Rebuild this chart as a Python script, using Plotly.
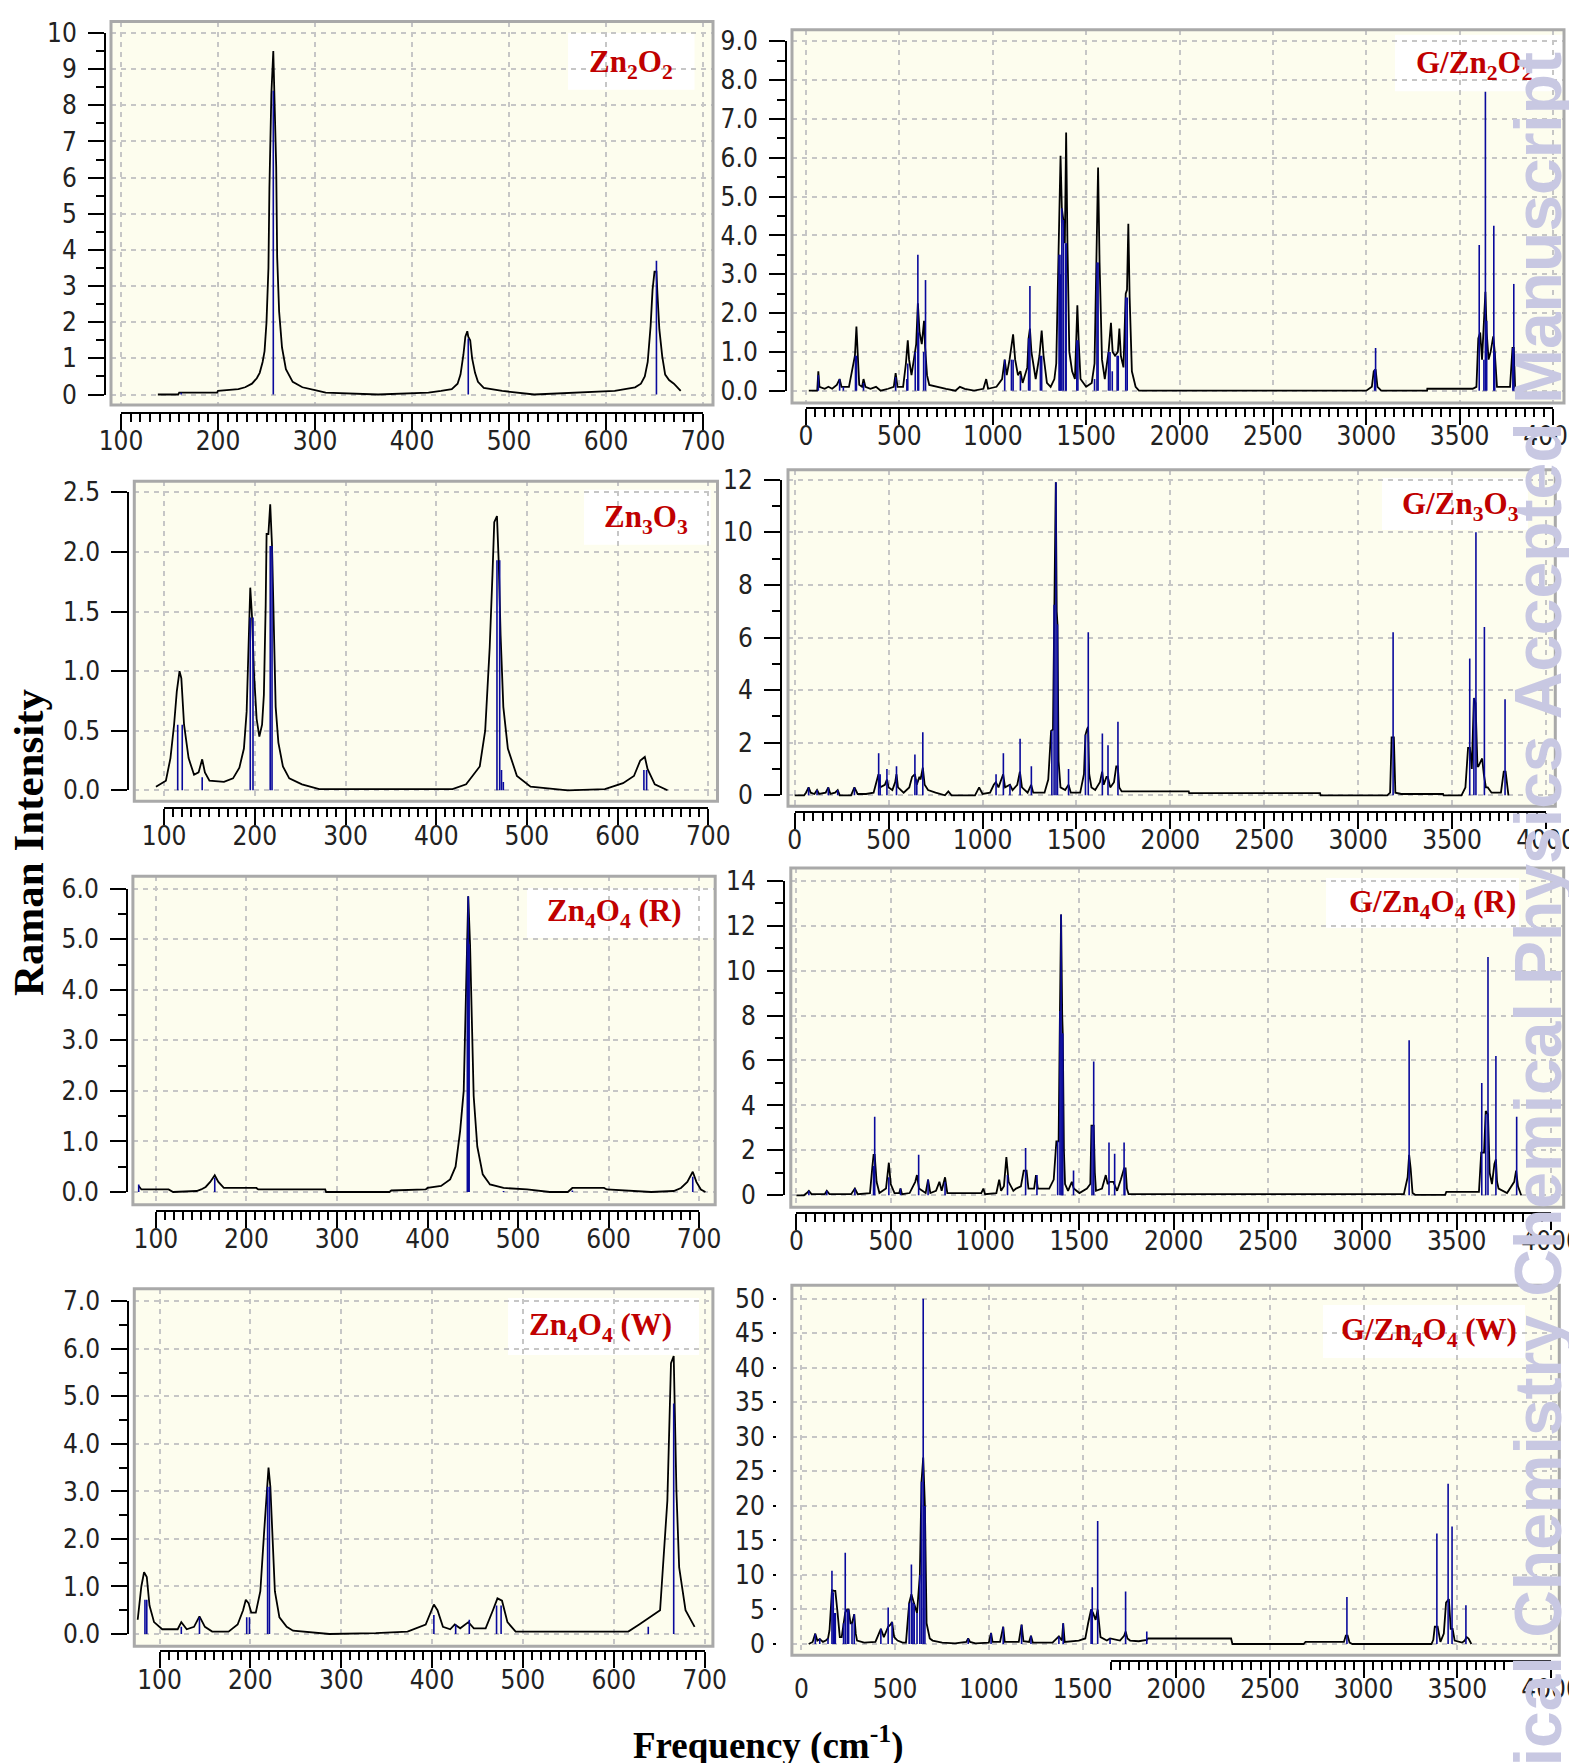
import plotly.graph_objects as go

W, H = 1577, 1763

# ------------------------------------------------------------------ DATA
# black broadened spectra (frequency cm-1, intensity) and blue stick lines
zn2o2_curve = [(138,0.0),(159,0.0),(160,0.05),(199,0.05),(200,0.1),(221,0.15),(228,0.2),(235,0.3),(240,0.45),(243,0.6),(246,0.9),(248,1.2),(250,2.0),(252,3.5),(253,5.7),(255,8.3),(257,9.5),(258,8.6),(260,6.3),(261,3.8),(263,2.3),(266,1.3),(270,0.7),(277,0.35),(287,0.2),(300,0.12),(311,0.05),(365,0.0),(417,0.05),(430,0.1),(441,0.15),(447,0.3),(450,0.55),(453,1.1),(455,1.6),(457,1.75),(458,1.6),(460,1.5),(462,1.0),(465,0.6),(468,0.35),(474,0.18),(493,0.1),(526,0.0),(564,0.05),(609,0.1),(630,0.2),(636,0.3),(640,0.5),(643,0.9),(646,1.9),(648,2.9),(650,3.4),(652,3.4),(653,2.8),(655,1.8),(658,1.05),(661,0.55),(665,0.4),(670,0.3),(677,0.1)]
zn2o2_sticks = [(162,0.05),(257,8.4),(458,1.55),(652,3.7)]

g_zn2o2_curve = [(15,0.0),(60,0.0),(66,0.5),(72,0.1),(100,0.05),(120,0.1),(140,0.05),(165,0.15),(180,0.3),(190,0.1),(230,0.1),(262,0.9),(270,1.65),(276,0.9),(285,0.15),(300,0.1),(308,0.3),(318,0.1),(345,0.05),(375,0.1),(400,0.0),(440,0.05),(470,0.1),(480,0.45),(490,0.1),(520,0.1),(535,0.7),(545,1.3),(552,0.8),(565,0.4),(580,0.9),(590,1.2),(599,2.25),(608,1.5),(620,1.2),(632,1.8),(638,1.1),(648,0.4),(660,0.15),(700,0.1),(750,0.05),(800,0.0),(824,0.1),(850,0.05),(900,0.0),(950,0.05),(965,0.3),(975,0.05),(1020,0.1),(1050,0.3),(1064,0.8),(1075,0.4),(1090,0.8),(1109,1.45),(1120,0.8),(1135,0.4),(1148,0.5),(1160,0.2),(1185,0.6),(1192,1.35),(1199,1.6),(1207,1.0),(1230,0.3),(1250,0.9),(1262,1.55),(1272,0.9),(1290,0.2),(1310,0.1),(1330,0.3),(1340,0.7),(1352,3.5),(1363,6.05),(1370,4.7),(1378,4.4),(1386,3.8),(1393,6.65),(1400,3.8),(1410,1.0),(1425,0.5),(1440,0.3),(1447,1.3),(1453,2.2),(1460,1.3),(1470,0.3),(1500,0.1),(1530,0.2),(1545,0.7),(1555,3.3),(1564,5.75),(1572,3.3),(1585,0.8),(1600,0.3),(1620,1.0),(1633,1.75),(1642,1.0),(1655,0.9),(1670,1.0),(1678,1.6),(1686,0.9),(1700,0.6),(1712,2.5),(1719,2.6),(1726,4.3),(1733,2.4),(1745,0.5),(1765,0.1),(1783,0.0),(3000,0.0),(3030,0.1),(3040,0.5),(3050,0.55),(3060,0.1),(3080,0.0),(3326,0.0),(3327,0.05),(3570,0.05),(3590,0.1),(3600,1.35),(3610,1.5),(3620,0.8),(3630,1.8),(3638,2.55),(3645,1.5),(3655,0.8),(3666,1.0),(3680,1.4),(3688,1.0),(3700,0.1),(3770,0.1),(3783,1.1),(3790,1.1),(3797,0.1),(3805,0.0)]
g_zn2o2_sticks = [(66,0.4),(180,0.3),(200,0.1),(265,0.9),(270,0.9),(308,0.2),(480,0.35),(540,0.3),(545,0.7),(585,1.0),(599,3.5),(603,1.5),(630,1.0),(640,2.85),(1064,0.8),(1100,0.8),(1109,0.8),(1148,0.4),(1192,1.35),(1199,2.7),(1255,0.9),(1262,0.9),(1355,3.5),(1360,3.5),(1363,3.0),(1370,4.7),(1378,4.4),(1390,3.8),(1393,3.8),(1450,1.3),(1456,1.3),(1545,0.3),(1558,3.3),(1564,3.3),(1620,1.0),(1628,1.0),(1640,0.5),(1666,0.9),(1672,0.9),(1712,2.4),(1720,2.4),(3045,0.55),(3050,1.1),(3605,3.75),(3630,0.8),(3638,7.7),(3645,1.8),(3683,4.25),(3688,1.0),(3785,1.1),(3790,2.75)]

zn3o3_curve = [(91,0.03),(102,0.08),(107,0.27),(111,0.55),(114,0.83),(116,0.97),(117,1.0),(119,0.94),(122,0.55),(127,0.27),(133,0.13),(138,0.15),(142,0.26),(145,0.15),(150,0.08),(166,0.07),(176,0.1),(183,0.19),(188,0.35),(191,0.66),(193,1.15),(194,1.55),(195,1.7),(197,1.45),(199,1.0),(202,0.6),(205,0.45),(208,0.55),(210,0.8),(212,1.55),(213,2.15),(215,2.15),(217,2.4),(219,2.05),(221,1.35),(223,0.7),(226,0.4),(231,0.2),(238,0.1),(252,0.05),(271,0.01),(418,0.01),(433,0.05),(448,0.2),(454,0.5),(459,1.2),(462,1.8),(464,2.25),(467,2.3),(469,1.9),(471,1.3),(474,0.7),(479,0.35),(489,0.12),(504,0.03),(545,0.0),(586,0.01),(606,0.06),(618,0.12),(625,0.25),(630,0.28),(633,0.18),(641,0.05),(655,0.0)]
zn3o3_sticks = [(115,0.55),(120,0.55),(142,0.11),(195,1.45),(198,1.45),(217,2.05),(219,2.05),(467,1.93),(470,1.93),(472,0.17),(474,0.07),(629,0.17),(632,0.17)]

g_zn3o3_curve = [(0,0.0),(50,0.0),(60,0.1),(74,0.3),(85,0.1),(105,0.05),(119,0.2),(130,0.05),(165,0.1),(179,0.3),(190,0.05),(215,0.1),(229,0.2),(240,0.0),(300,0.0),(318,0.3),(335,0.05),(380,0.05),(420,0.1),(436,0.5),(446,0.8),(455,0.3),(480,0.4),(491,0.6),(500,0.3),(520,0.2),(535,0.5),(542,0.8),(550,0.3),(580,0.1),(610,0.3),(625,0.7),(640,0.8),(650,0.4),(664,0.7),(670,0.6),(682,1.05),(692,0.4),(710,0.2),(750,0.1),(800,0.0),(818,0.15),(835,0.0),(960,0.0),(982,0.3),(1000,0.05),(1040,0.1),(1060,0.4),(1071,0.5),(1085,0.3),(1100,0.6),(1110,0.8),(1120,0.3),(1146,0.4),(1160,0.2),(1185,0.4),(1199,0.9),(1210,0.3),(1240,0.1),(1259,0.4),(1270,0.1),(1330,0.1),(1350,0.6),(1365,2.45),(1375,2.5),(1381,7.25),(1390,11.9),(1395,7.0),(1399,6.5),(1405,1.3),(1415,0.3),(1440,0.2),(1458,0.4),(1470,0.1),(1520,0.1),(1540,0.8),(1548,2.3),(1556,2.5),(1562,2.6),(1568,0.8),(1580,0.3),(1600,0.2),(1625,0.5),(1637,0.9),(1645,0.4),(1660,0.7),(1667,0.7),(1680,0.3),(1700,0.5),(1712,1.1),(1720,1.1),(1728,0.3),(1741,0.15),(2098,0.15),(2100,0.08),(2797,0.08),(2800,0.0),(3155,0.0),(3170,0.1),(3178,2.2),(3190,2.2),(3198,0.1),(3229,0.05),(3452,0.05),(3455,0.0),(3550,0.0),(3571,0.3),(3585,1.8),(3595,1.8),(3605,1.0),(3616,3.7),(3625,3.5),(3635,1.1),(3640,1.1),(3660,1.4),(3669,0.8),(3680,0.3),(3690,0.3),(3710,0.1),(3760,0.1),(3775,0.9),(3785,0.9),(3795,0.1),(3800,0.0)]
g_zn3o3_sticks = [(74,0.3),(119,0.2),(179,0.3),(229,0.2),(318,0.3),(447,1.6),(455,0.8),(491,1.0),(542,1.1),(640,1.55),(650,0.6),(682,2.4),(1072,0.8),(1111,1.6),(1146,0.4),(1200,2.15),(1260,1.1),(1369,2.45),(1381,7.25),(1391,11.9),(1399,6.5),(1458,1.0),(1548,2.3),(1563,6.2),(1638,2.35),(1668,1.9),(1721,2.8),(3186,6.2),(3594,5.2),(3616,3.7),(3627,10.0),(3672,6.4),(3782,3.65)]

zn4o4r_curve = [(81,0.12),(84,0.05),(86,0.05),(114,0.05),(119,0.0),(145,0.02),(150,0.05),(155,0.1),(160,0.2),(165,0.33),(169,0.2),(175,0.08),(211,0.08),(213,0.05),(287,0.05),(288,0.0),(358,0.0),(360,0.03),(398,0.05),(400,0.08),(415,0.12),(425,0.25),(431,0.5),(436,1.2),(440,2.0),(442,3.5),(444,5.1),(445,5.85),(447,4.9),(449,3.3),(451,1.9),(455,0.9),(461,0.35),(469,0.15),(484,0.08),(510,0.05),(535,0.0),(555,0.0),(560,0.08),(595,0.08),(598,0.05),(647,0.0),(672,0.02),(680,0.08),(687,0.2),(693,0.4),(697,0.2),(702,0.05),(707,0.0)]
zn4o4r_sticks = [(81,0.15),(165,0.28),(444,5.0),(445,5.85),(446,4.9),(484,0.02),(560,0.03),(693,0.3)]

g_zn4o4r_curve = [(0,0.0),(40,0.0),(55,0.1),(66,0.2),(80,0.05),(150,0.05),(161,0.2),(175,0.05),(290,0.05),(310,0.3),(325,0.05),(390,0.1),(403,1.3),(409,1.8),(415,1.8),(425,0.6),(440,0.1),(475,0.3),(490,1.45),(500,0.5),(520,0.1),(545,0.1),(552,0.3),(560,0.05),(600,0.1),(630,0.6),(639,0.9),(650,0.3),(685,0.1),(698,0.7),(710,0.1),(740,0.2),(758,0.6),(770,0.2),(788,0.8),(800,0.1),(980,0.1),(991,0.3),(1000,0.05),(1060,0.1),(1075,0.7),(1085,0.2),(1100,0.4),(1113,1.7),(1125,0.6),(1150,0.2),(1164,0.3),(1190,0.4),(1205,1.1),(1220,1.1),(1230,0.3),(1260,0.3),(1270,0.9),(1280,0.3),(1340,0.3),(1364,0.7),(1378,2.4),(1390,2.4),(1397,8.2),(1403,12.5),(1409,8.0),(1412,7.2),(1418,2.0),(1424,0.5),(1440,0.2),(1460,0.6),(1470,0.3),(1500,0.1),(1540,0.3),(1558,0.5),(1564,3.1),(1576,3.1),(1582,1.0),(1588,0.2),(1620,0.3),(1640,0.9),(1650,0.5),(1660,0.6),(1680,0.6),(1700,0.2),(1720,0.7),(1737,1.2),(1745,1.2),(1752,0.3),(1761,0.05),(3220,0.05),(3240,0.8),(3248,1.8),(3256,1.2),(3266,0.1),(3280,0.02),(3439,0.02),(3445,0.15),(3618,0.15),(3630,1.9),(3645,1.9),(3654,3.75),(3666,3.6),(3675,1.0),(3687,0.5),(3700,1.4),(3708,1.6),(3714,0.6),(3722,0.3),(3767,0.1),(3805,0.6),(3815,1.1),(3825,0.4),(3842,0.0)]
g_zn4o4r_sticks = [(66,0.2),(161,0.2),(310,0.3),(409,1.3),(415,3.5),(490,0.8),(552,0.3),(648,1.8),(698,0.7),(788,0.6),(1119,0.9),(1215,2.1),(1275,0.9),(1385,2.4),(1397,8.2),(1403,12.5),(1409,7.2),(1412,7.2),(1469,1.1),(1567,3.1),(1576,5.95),(1657,2.35),(1687,1.85),(1737,2.35),(1741,1.2),(3248,6.9),(3633,5.0),(3654,3.6),(3666,10.6),(3708,6.2),(3818,3.5)]

zn4o4w_curve = [(76,0.3),(80,1.0),(83,1.3),(86,1.2),(89,0.6),(94,0.25),(103,0.1),(120,0.1),(124,0.25),(130,0.1),(138,0.15),(144,0.37),(150,0.15),(158,0.05),(176,0.05),(186,0.2),(192,0.5),(195,0.72),(198,0.65),(201,0.45),(206,0.45),(211,0.9),(215,2.1),(218,3.1),(220,3.5),(222,3.1),(224,2.2),(227,0.9),(232,0.35),(240,0.15),(247,0.07),(287,0.0),(338,0.02),(373,0.05),(393,0.2),(399,0.5),(402,0.62),(406,0.5),(412,0.15),(420,0.1),(425,0.2),(431,0.12),(440,0.25),(446,0.12),(459,0.12),(467,0.5),(472,0.75),(477,0.7),(483,0.25),(492,0.05),(616,0.05),(628,0.2),(639,0.35),(651,0.5),(659,2.8),(661,4.4),(663,5.7),(666,5.85),(669,3.0),(672,1.4),(679,0.5),(689,0.15)]
zn4o4w_sticks = [(84,0.72),(86,0.72),(124,0.15),(144,0.35),(196,0.35),(199,0.35),(219,3.1),(221,3.1),(402,0.4),(426,0.2),(441,0.3),(471,0.6),(476,0.6),(638,0.15),(666,4.85)]

g_zn4o4w_curve = [(39,0.0),(60,0.3),(74,1.5),(85,0.5),(98,0.7),(115,0.3),(130,0.5),(142,0.8),(150,2.0),(163,7.8),(175,7.7),(181,7.7),(193,4.5),(205,1.0),(215,1.0),(225,3.0),(234,4.6),(245,5.0),(252,5.0),(262,3.0),(270,3.0),(282,4.3),(290,1.5),(297,0.5),(335,0.2),(395,0.3),(424,2.2),(440,1.0),(463,2.5),(475,2.8),(484,3.2),(495,1.0),(513,0.5),(540,0.2),(558,0.2),(575,5.9),(587,7.2),(602,5.8),(617,4.5),(632,10.0),(641,23.5),(650,27.0),(659,20.0),(668,3.0),(685,0.8),(700,0.5),(751,0.2),(820,0.1),(880,0.3),(890,0.8),(900,0.3),(929,0.1),(1000,0.2),(1012,1.6),(1020,0.3),(1060,0.3),(1077,2.5),(1085,0.3),(1160,0.3),(1175,2.8),(1185,0.4),(1215,0.3),(1225,1.2),(1235,0.2),(1340,0.2),(1374,1.1),(1390,0.5),(1397,3.0),(1405,0.3),(1480,0.5),(1515,0.8),(1530,3.0),(1546,5.0),(1556,4.5),(1570,3.5),(1581,5.0),(1590,2.0),(1596,1.0),(1630,0.5),(1647,0.8),(1700,0.5),(1722,1.2),(1730,1.8),(1740,0.8),(1754,0.5),(1800,0.4),(1843,0.6),(1850,0.8),(2293,0.8),(2300,0.0),(2680,0.0),(2690,0.3),(2895,0.3),(2905,1.2),(2915,1.2),(2925,0.2),(2940,0.0),(3362,0.0),(3372,0.6),(3380,2.5),(3395,2.5),(3410,0.3),(3428,1.5),(3440,6.0),(3455,6.5),(3465,2.2),(3475,2.2),(3486,0.5),(3525,0.2),(3540,0.5),(3550,1.0),(3560,0.8),(3575,0.0)]
g_zn4o4w_sticks = [(74,1.5),(98,0.8),(142,0.8),(163,10.6),(170,7.5),(175,4.5),(181,4.5),(225,3.0),(234,13.2),(245,5.0),(252,5.0),(270,3.0),(282,4.3),(424,2.2),(463,5.3),(484,3.2),(575,5.9),(587,11.5),(595,6.0),(602,5.8),(617,4.5),(632,10.0),(641,23.5),(650,50.0),(659,20.0),(890,0.8),(1012,1.6),(1077,2.5),(1175,2.8),(1225,1.2),(1374,1.1),(1397,3.0),(1546,5.0),(1552,8.2),(1581,17.8),(1647,0.8),(1730,7.6),(1843,1.8),(2911,6.8),(3391,16.0),(3451,23.2),(3472,17.0),(3546,5.6)]

# panel labels
labels = ["Zn<sub>2</sub>O<sub>2</sub>", "G/Zn<sub>2</sub>O<sub>2</sub>",
          "Zn<sub>3</sub>O<sub>3</sub>", "G/Zn<sub>3</sub>O<sub>3</sub>",
          "Zn<sub>4</sub>O<sub>4</sub> (R)", "G/Zn<sub>4</sub>O<sub>4</sub> (R)",
          "Zn<sub>4</sub>O<sub>4</sub> (W)", "G/Zn<sub>4</sub>O<sub>4</sub> (W)"]
curves = [zn2o2_curve, g_zn2o2_curve, zn3o3_curve, g_zn3o3_curve,
          zn4o4r_curve, g_zn4o4r_curve, zn4o4w_curve, g_zn4o4w_curve]
sticks = [zn2o2_sticks, g_zn2o2_sticks, zn3o3_sticks, g_zn3o3_sticks,
          zn4o4r_sticks, g_zn4o4r_sticks, zn4o4w_sticks, g_zn4o4w_sticks]
# axis ticks: (xmin, xmax, xmajor, xminor), (ymin, ymax, ymajor, yminor, format)
x_ticks = [(100,700,100,10),(0,4000,500,50)] * 4
y_ticks = [(0,10,1,0.5,"d"),(0,9,1,0.5,".1f"),
           (0,2.5,0.5,None,".1f"),(0,12,2,1,"d"),
           (0,6,1,0.5,".1f"),(0,14,2,1,"d"),
           (0,7,1,0.5,".1f"),(0,50,5,None,"d")]

# ------------------------------------------------------------------ LAYOUT GEOMETRY (pixels)
geom = [
    dict(frame=(103,705,13.5,397),   yspine=97,  xspine=405,    xcal=(113,695),    ycal=(386.5,25),
         box=(560,686.5,25,81.7),    lab=(623,56)),
    dict(frame=(784,1556,21.7,395),  yspine=778, xspine=400,    xcal=(798,1545),   ycal=(382.7,33.3),
         box=(1387,1556,26.7,83.3),  lab=(1466,57)),
    dict(frame=(126.3,709.5,473.3,793.3), yspine=120.3, xspine=800, xcal=(156.1,700.3), ycal=(782.3,484.3),
         box=(576,702.6,481.7,536.7), lab=(638,511)),
    dict(frame=(780,1547.3,461.7,798.3), yspine=773, xspine=804, xcal=(786.7,1538), ycal=(787.3,471.7),
         box=(1374,1520,470,522),     lab=(1452,498)),
    dict(frame=(124.9,707.2,868.3,1196.7), yspine=119, xspine=1202.7, xcal=(147.9,691.1), ycal=(1184,880.7),
         box=(519,705,880,930),       lab=(606,905)),
    dict(frame=(782.8,1555.7,860,1199.3), yspine=776, xspine=1205, xcal=(788.4,1543), ycal=(1187.3,872.7),
         box=(1318,1511,870,920),     lab=(1424,896)),
    dict(frame=(126.3,704.9,1280.7,1638.3), yspine=120.3, xspine=1643.3, xcal=(151.5,696.6), ycal=(1626,1293.3),
         box=(500,691,1290,1347),     lab=(592,1319)),
    dict(frame=(783.9,1551.3,1277.3,1647.3), yspine=768, xspine=1652.7, xcal=(793.4,1543), ycal=(1636,1290.7),
         box=(1315,1517,1297,1350),   lab=(1421,1324)),
]

TICKFONT = dict(family="Liberation Sans Narrow, Arial Narrow, DejaVu Sans Condensed, Liberation Sans, Arial",
                size=26, color="#222222")
CREAM = "#FDFDEE"
GRID = "#C6C6C6"


def ref(letter, n):
    return letter if n == 1 else f"{letter}{n}"


def ak(letter, n):
    return f"{letter}axis" if n == 1 else f"{letter}axis{n}"


def fx(p):
    return p / W


def fy(p):
    return 1 - p / H


fig = go.Figure()
layout = dict(template="none", width=W, height=H, autosize=False, margin=dict(l=0, r=0, t=0, b=0, pad=0),
              paper_bgcolor="white", plot_bgcolor="rgba(0,0,0,0)", showlegend=False)
shapes, annotations = [], []

for i, g in enumerate(geom):
    m, d = 2 * i + 1, 2 * i + 2
    xm, ym, xd, yd = ref("x", m), ref("y", m), ref("x", d), ref("y", d)
    L, R, T, B = g["frame"]
    xmin, xmax, xmaj, xmin_ = x_ticks[i]
    ymin, ymax, ymaj, ymin_, yfmt = y_ticks[i]
    xp0, xp1 = g["xcal"]
    yp0, yp1 = g["ycal"]
    sx = (xp1 - xp0) / (xmax - xmin)
    sy = (yp1 - yp0) / (ymax - ymin)

    def xval(p):
        return xmin + (p - xp0) / sx

    def yval(p):
        return ymin + (p - yp0) / sy

    # main axes: frame + grid + data
    layout[ak("x", m)] = dict(domain=[fx(L), fx(R)], range=[xval(L), xval(R)], anchor=ym,
                              showgrid=True, gridcolor=GRID, griddash="5px,5px", gridwidth=1.5,
                              tick0=xmin, dtick=xmaj, showticklabels=False, ticks="",
                              showline=False, zeroline=False, fixedrange=True, automargin=False)
    layout[ak("y", m)] = dict(domain=[fy(B), fy(T)], range=[yval(B), yval(T)], anchor=xm,
                              showgrid=True, gridcolor=GRID, griddash="5px,5px", gridwidth=1.5,
                              tick0=ymin, dtick=ymaj, showticklabels=False, ticks="",
                              showline=False, zeroline=False, fixedrange=True, automargin=False)

    # spine axes with ticks and labels
    last = (i == 7)
    xspine_ax = dict(domain=[fx(xp0), fx(xp1)], range=[xmin, xmax + 1e-6], anchor="free",
                     position=fy(g["xspine"]), side="bottom", showline=not last,
                     linecolor="black", linewidth=2, ticks="outside", ticklen=16, tickwidth=2,
                     tickcolor="rgba(0,0,0,0)" if last else "black",
                     tick0=xmin, dtick=xmaj, showgrid=False, zeroline=False, automargin=False,
                     tickfont=TICKFONT, ticklabelstandoff=-11, fixedrange=True)
    if not last:
        xspine_ax["minor"] = dict(ticks="outside", ticklen=8, tickwidth=1.5, tickcolor="black",
                                  dtick=xmin_, showgrid=False)
    layout[ak("x", d)] = xspine_ax
    yspine_ax = dict(domain=[fy(yp0), fy(yp1)], range=[ymin, ymax + 1e-6], anchor="free",
                     position=fx(g["yspine"]), side="left", showline=not last,
                     linecolor="black", linewidth=2, ticks="outside", ticklen=3 if last else 16,
                     tickwidth=2, tickcolor="black", tick0=ymin, dtick=ymaj, tickformat=yfmt,
                     showgrid=False, zeroline=False, tickfont=TICKFONT, automargin=False,
                     ticklabelstandoff=3 if last else 6, fixedrange=True)
    if ymin_:
        yspine_ax["minor"] = dict(ticks="outside", ticklen=8, tickwidth=1.5, tickcolor="black",
                                  dtick=ymin_, showgrid=False)
    layout[ak("y", d)] = yspine_ax
    fig.add_trace(go.Scatter(x=[None], y=[None], xaxis=xd, yaxis=yd,
                             showlegend=False, hoverinfo="skip"))

    # frame background and border
    shapes.append(dict(type="rect", xref=f"{xm} domain", yref=f"{ym} domain", x0=0, x1=1, y0=0, y1=1,
                       layer="below", fillcolor=CREAM, line=dict(width=0)))
    shapes.append(dict(type="rect", xref=f"{xm} domain", yref=f"{ym} domain", x0=0, x1=1, y0=0, y1=1,
                       layer="above", fillcolor="rgba(0,0,0,0)", line=dict(color="#A9A9A9", width=3)))
    # white label box
    bx0, bx1, by0, by1 = g["box"]
    shapes.append(dict(type="rect", xref="paper", yref="paper", x0=fx(bx0), x1=fx(bx1),
                       y0=fy(by1), y1=fy(by0), layer="between", fillcolor="white", line=dict(width=0)))
    annotations.append(dict(text=f"<b>{labels[i]}</b>", x=fx(g["lab"][0]), y=fy(g["lab"][1]),
                            xref="paper", yref="paper", xanchor="center", yanchor="middle",
                            showarrow=False,
                            font=dict(family="Liberation Serif, Times New Roman, serif", size=31,
                                      color="#C00000")))

    # spectrum envelope (black)
    pts = sorted(curves[i])
    fig.add_trace(go.Scatter(x=[p[0] for p in pts], y=[p[1] for p in pts], mode="lines",
                             xaxis=xm, yaxis=ym, line=dict(color="black", width=1.8),
                             showlegend=False, hoverinfo="skip"))
    # stick spectrum (blue)
    sxs, sys_ = [], []
    for f, h in sticks[i]:
        sxs += [f, f, None]
        sys_ += [0, h, None]
    fig.add_trace(go.Scatter(x=sxs, y=sys_, mode="lines", xaxis=xm, yaxis=ym,
                             line=dict(color="#0A0A9C", width=1.6), showlegend=False, hoverinfo="skip"))

# partial tick spine of the last panel (drawn only from 1650 cm-1 onward)
g = geom[7]
xp0, xp1 = g["xcal"]
s8 = (xp1 - xp0) / 4000.0
layout["xaxis17"] = dict(domain=[fx(xp0 + 1650 * s8), fx(xp1)], range=[1650, 4000 + 1e-6], anchor="free",
                         position=fy(g["xspine"]), side="bottom", showline=True, linecolor="black", linewidth=2,
                         ticks="outside", ticklen=16, tickwidth=2, tickcolor="black", tick0=0, dtick=500,
                         showticklabels=False, showgrid=False, zeroline=False, fixedrange=True, automargin=False,
                         minor=dict(ticks="outside", ticklen=8, tickwidth=1.5, tickcolor="black", dtick=50))
fig.add_trace(go.Scatter(x=[None], y=[None], xaxis="x17", yaxis="y16", showlegend=False, hoverinfo="skip"))

# axis titles
annotations.append(dict(text="<b>Raman Intensity</b>", x=fx(20), y=fy(834), xref="paper", yref="paper",
                        textangle=-90, xanchor="center", yanchor="middle", showarrow=False,
                        font=dict(family="Liberation Serif, Times New Roman, serif", size=43, color="black")))
annotations.append(dict(text="<b>Frequency (cm<sup>-1</sup>)</b>", x=fx(760), y=fy(1735), xref="paper",
                        yref="paper", xanchor="center", yanchor="middle", showarrow=False,
                        font=dict(family="Liberation Serif, Times New Roman, serif", size=37, color="black")))
# journal watermark
annotations.append(dict(text="<b>Physical Chemistry Chemical Physics Accepted Manuscript</b>",
                        x=fx(1530), y=fy(42), xref="paper", yref="paper", textangle=-90,
                        xanchor="center", yanchor="top", showarrow=False,
                        font=dict(family="Liberation Sans, Arial, sans-serif", size=66,
                                  color="rgb(200,200,226)")))

layout["shapes"] = shapes
layout["annotations"] = annotations
fig.update_layout(**layout)
fig.write_html("out.html")
